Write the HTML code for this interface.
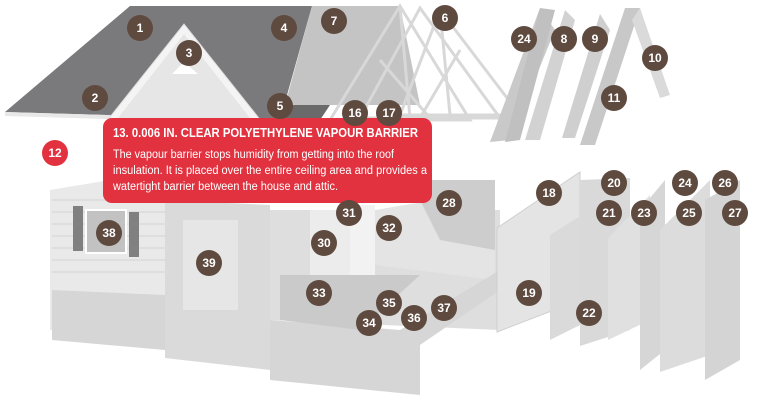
<!DOCTYPE html>
<html><head><meta charset="utf-8"><style>
html,body{margin:0;padding:0;background:#fff;}
svg{display:block;}
.c{fill:#5f4a3f;}
.t{font-family:"Liberation Sans",sans-serif;font-weight:bold;font-size:12px;fill:#fff;text-anchor:middle;}
</style></head><body>
<svg width="758" height="407" viewBox="0 0 758 407" xmlns="http://www.w3.org/2000/svg">
<polygon points="130,6 312,6 280,120 5,112" fill="#7a7a7c"/>
<polygon points="5,112 280,120 280,124 5,116" fill="#e8e8e8"/>
<polygon points="312,6 400,6 420,105 285,105" fill="#c4c4c4"/>
<polygon points="285,105 330,105 320,120 280,120" fill="#6a6a6a"/>
<g stroke="#d8d8d8" stroke-width="3" fill="none">
<polygon points="400,6 470,120 330,120"/>
<polygon points="420,8 500,118 360,118"/>
<polygon points="440,10 520,115 400,115"/>
<line x1="400" y1="6" x2="410" y2="118"/><line x1="440" y1="10" x2="450" y2="115"/>
<line x1="380" y1="60" x2="430" y2="118"/><line x1="460" y1="50" x2="420" y2="118"/>
</g>
<polygon points="184,24 262,122 106,122" fill="#f4f4f4" stroke="#dcdcdc"/>
<polygon points="184,34 250,118 118,118" fill="#e6e6e6"/>
<polygon points="184,62 198,74 172,74" fill="#fff"/>
<polygon points="540,8 490,142 510,140 555,30" fill="#c9c9c9"/>
<polygon points="540,8 555,10 520,140 505,142" fill="#c0c0c0"/>
<polygon points="565,10 575,20 540,140 525,140" fill="#d2d2d2"/>
<polygon points="600,14 610,30 575,138 562,138" fill="#cfcfcf"/>
<polygon points="625,8 640,8 595,145 580,145" fill="#c8c8c8"/>
<polygon points="640,8 670,95 660,98 632,20" fill="#dadada"/>
<polygon points="50,190 110,180 170,182 170,340 50,330" fill="#e9e9e9"/>
<g stroke="#d2d2d2" stroke-width="1">
<line x1="52" y1="200" x2="165" y2="200"/><line x1="52" y1="212" x2="165" y2="212"/><line x1="52" y1="224" x2="165" y2="224"/><line x1="52" y1="236" x2="165" y2="236"/><line x1="52" y1="248" x2="165" y2="248"/><line x1="52" y1="260" x2="165" y2="260"/><line x1="52" y1="272" x2="165" y2="272"/>
</g>
<rect x="73" y="206" width="10" height="45" fill="#808080"/>
<rect x="86" y="210" width="40" height="43" fill="#c2c2c2" stroke="#fff" stroke-width="2"/>
<rect x="129" y="212" width="10" height="45" fill="#808080"/>
<polygon points="52,290 165,295 165,350 52,340" fill="#d6d6d6"/>
<polygon points="165,200 270,205 270,370 165,358" fill="#dadada"/>
<rect x="183" y="220" width="55" height="90" fill="#e6e6e6"/>
<polygon points="270,210 500,210 500,330 270,320" fill="#dedede"/>
<rect x="310" y="210" width="65" height="75" fill="#ececec"/>
<rect x="350" y="205" width="25" height="80" fill="#f2f2f2"/>
<polygon points="375,210 495,190 495,280 375,265" fill="#e4e4e4"/>
<polygon points="410,180 495,180 495,250 440,240" fill="#cdcdcd"/>
<polygon points="270,320 400,330 500,270 500,290 420,345 420,395 270,380" fill="#d6d6d6"/>
<polygon points="280,275 420,275 360,330 280,320" fill="#cacaca"/>
<polygon points="497,228 580,172 580,300 497,332" fill="#e4e4e4" stroke="#cfcfcf"/>
<polygon points="550,235 590,210 590,320 550,340" fill="#dadada"/>
<polygon points="580,180 630,178 630,330 580,346" fill="#d9d9d9"/>
<polygon points="608,238 650,195 650,320 608,340" fill="#e0e0e0"/>
<polygon points="640,210 665,180 665,350 640,370" fill="#d6d6d6"/>
<polygon points="660,230 710,180 710,355 660,372" fill="#dcdcdc"/>
<polygon points="705,200 740,180 740,360 705,380" fill="#d4d4d4"/>
<rect x="103" y="118" width="329" height="85" rx="9" fill="#e2323f"/>
<text x="113" y="137" textLength="305" lengthAdjust="spacingAndGlyphs" style="font-family:'Liberation Sans',sans-serif;font-weight:bold;font-size:12.5px;fill:#fff">13. 0.006 IN. CLEAR POLYETHYLENE VAPOUR BARRIER</text>
<g style="font-family:'Liberation Sans',sans-serif;font-size:11.5px;fill:#fff">
<text x="113" y="158" textLength="281" lengthAdjust="spacingAndGlyphs">The vapour barrier stops humidity from getting into the roof</text>
<text x="113" y="174" textLength="314" lengthAdjust="spacingAndGlyphs">insulation. It is placed over the entire ceiling area and provides a</text>
<text x="113" y="190" textLength="225" lengthAdjust="spacingAndGlyphs">watertight barrier between the house and attic.</text>
</g>
<circle cx="55" cy="153" r="13" fill="#e2323f"/><text class="t" x="55" y="157">12</text>
<g>
<circle class="c" cx="140" cy="28" r="13"/><text class="t" x="140" y="32">1</text>
<circle class="c" cx="95" cy="98" r="13"/><text class="t" x="95" y="102">2</text>
<circle class="c" cx="189" cy="53" r="13"/><text class="t" x="189" y="57">3</text>
<circle class="c" cx="284" cy="28" r="13"/><text class="t" x="284" y="32">4</text>
<circle class="c" cx="280" cy="106" r="13"/><text class="t" x="280" y="110">5</text>
<circle class="c" cx="445" cy="18" r="13"/><text class="t" x="445" y="22">6</text>
<circle class="c" cx="334" cy="21" r="13"/><text class="t" x="334" y="25">7</text>
<circle class="c" cx="564" cy="39" r="13"/><text class="t" x="564" y="43">8</text>
<circle class="c" cx="595" cy="39" r="13"/><text class="t" x="595" y="43">9</text>
<circle class="c" cx="655" cy="58" r="13"/><text class="t" x="655" y="62">10</text>
<circle class="c" cx="614" cy="98" r="13"/><text class="t" x="614" y="102">11</text>
<circle class="c" cx="355" cy="113" r="13"/><text class="t" x="355" y="117">16</text>
<circle class="c" cx="389" cy="113" r="13"/><text class="t" x="389" y="117">17</text>
<circle class="c" cx="524" cy="39" r="13"/><text class="t" x="524" y="43">24</text>
<circle class="c" cx="549" cy="193" r="13"/><text class="t" x="549" y="197">18</text>
<circle class="c" cx="529" cy="293" r="13"/><text class="t" x="529" y="297">19</text>
<circle class="c" cx="614" cy="183" r="13"/><text class="t" x="614" y="187">20</text>
<circle class="c" cx="609" cy="213" r="13"/><text class="t" x="609" y="217">21</text>
<circle class="c" cx="589" cy="313" r="13"/><text class="t" x="589" y="317">22</text>
<circle class="c" cx="644" cy="213" r="13"/><text class="t" x="644" y="217">23</text>
<circle class="c" cx="685" cy="183" r="13"/><text class="t" x="685" y="187">24</text>
<circle class="c" cx="689" cy="213" r="13"/><text class="t" x="689" y="217">25</text>
<circle class="c" cx="725" cy="183" r="13"/><text class="t" x="725" y="187">26</text>
<circle class="c" cx="735" cy="213" r="13"/><text class="t" x="735" y="217">27</text>
<circle class="c" cx="449" cy="203" r="13"/><text class="t" x="449" y="207">28</text>
<circle class="c" cx="324" cy="243" r="13"/><text class="t" x="324" y="247">30</text>
<circle class="c" cx="349" cy="213" r="13"/><text class="t" x="349" y="217">31</text>
<circle class="c" cx="389" cy="228" r="13"/><text class="t" x="389" y="232">32</text>
<circle class="c" cx="319" cy="293" r="13"/><text class="t" x="319" y="297">33</text>
<circle class="c" cx="369" cy="323" r="13"/><text class="t" x="369" y="327">34</text>
<circle class="c" cx="389" cy="303" r="13"/><text class="t" x="389" y="307">35</text>
<circle class="c" cx="414" cy="318" r="13"/><text class="t" x="414" y="322">36</text>
<circle class="c" cx="444" cy="308" r="13"/><text class="t" x="444" y="312">37</text>
<circle class="c" cx="109" cy="233" r="13"/><text class="t" x="109" y="237">38</text>
<circle class="c" cx="209" cy="263" r="13"/><text class="t" x="209" y="267">39</text>
</g>
</svg>
</body></html>
